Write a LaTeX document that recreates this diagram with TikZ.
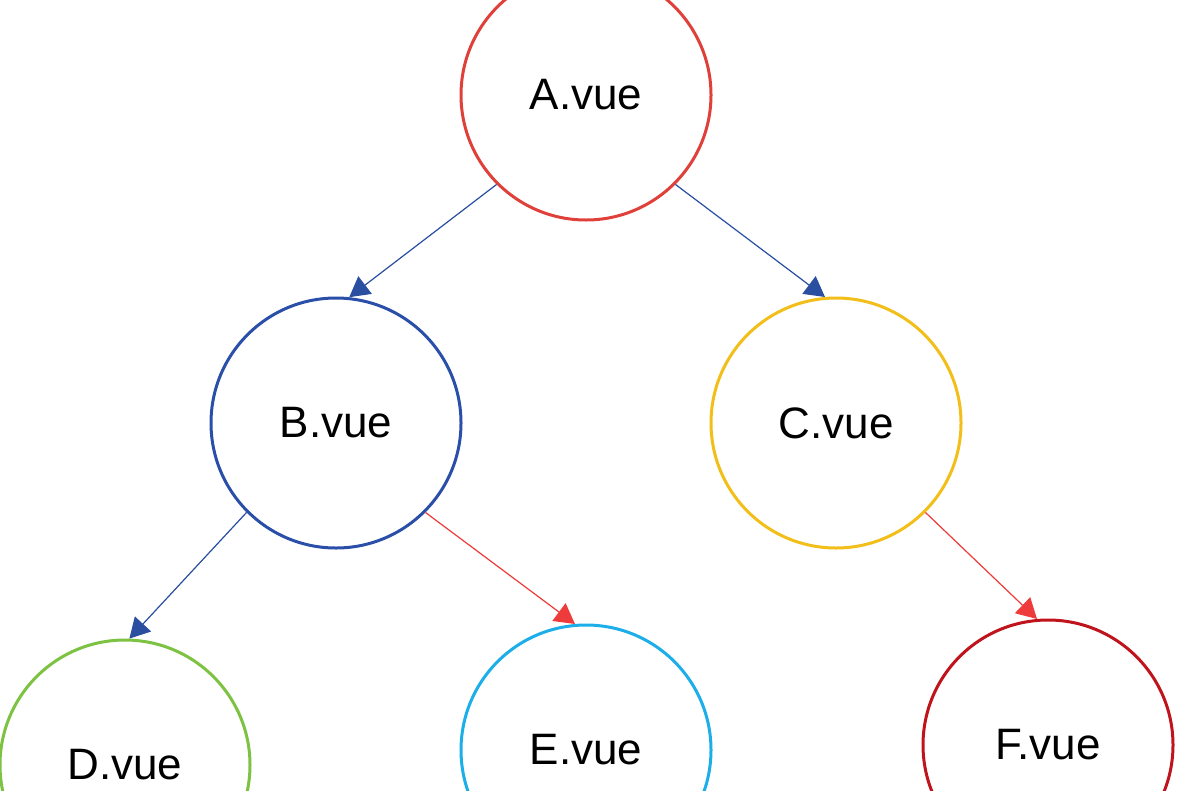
\documentclass[tikz,border=0pt]{standalone}
\usepackage{fontspec}
\setmainfont{Liberation Sans}
\usetikzlibrary{arrows.meta}
\definecolor{cA}{HTML}{E0403A}
\definecolor{cB}{HTML}{2A4FA8}
\definecolor{cC}{HTML}{F2BE1A}
\definecolor{cD}{HTML}{7DC242}
\definecolor{cE}{HTML}{1BAEE8}
\definecolor{cF}{HTML}{C0141C}
\definecolor{ablue}{HTML}{2A4FA0}
\definecolor{ared}{HTML}{EE3B3B}
\begin{document}
\begin{tikzpicture}[x=1pt,y=-1pt,
  vnode/.style={circle,draw,line width=3pt,minimum size=250pt,inner sep=0pt,font=\fontsize{44}{44}\selectfont},
  conn/.style={line width=1.2pt,-{Triangle[length=20pt,width=22pt]}}]
\useasboundingbox (0,0) rectangle (1185,790);
\node[vnode,draw=cA] (A) at (586,95) {A.vue};
\node[vnode,draw=cB] (B) at (336,423) {B.vue};
\node[vnode,draw=cC] (C) at (836,423) {C.vue};
\node[vnode,draw=cD] (D) at (125,765) {D.vue};
\node[vnode,draw=cE] (E) at (586,750) {E.vue};
\node[vnode,draw=cF] (F) at (1048,745) {F.vue};
\draw[conn,draw=ablue,fill=ablue] (A.225) -- (B.84);
\draw[conn,draw=ablue,fill=ablue] (A.315) -- (C.95);
\draw[conn,draw=ablue,fill=ablue] (B.225) -- (D.88);
\draw[conn,draw=ared,fill=ared] (B.315) -- (E.95);
\draw[conn,draw=ared,fill=ared] (C.315) -- (F.95);
\end{tikzpicture}
\end{document}
